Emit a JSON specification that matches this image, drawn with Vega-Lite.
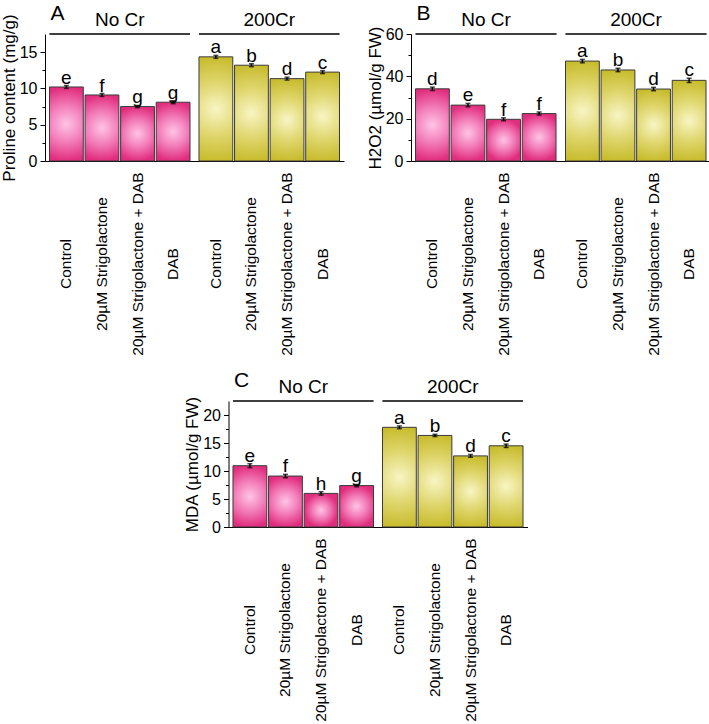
{
  "$schema": "https://vega.github.io/schema/vega-lite/v6.json",
  "padding": {"left": 0, "top": 3, "right": 0, "bottom": 0},
  "background": "white",
  "config": {
    "font": "Liberation Sans",
    "view": {"stroke": null},
    "axisY": {"titleFontSize": 17, "titleFontWeight": "normal", "titleColor": "black", "labelFontSize": 16, "labelColor": "black", "domainColor": "black", "tickColor": "black", "tickSize": 5, "titlePadding": 1, "labelPadding": 3, "grid": false},
    "axisX": {"labels": false, "ticks": false, "title": null, "domainColor": "black", "grid": false}
  },
  "datasets": {
    "rows": [
      {"panel": "A", "group": "No Cr", "treatment": "Control", "value": 10.2, "lo": 10.0, "hi": 10.4, "letter": "e"},
      {"panel": "A", "group": "No Cr", "treatment": "20µM Strigolactone", "value": 9.1, "lo": 8.9, "hi": 9.3, "letter": "f"},
      {"panel": "A", "group": "No Cr", "treatment": "20µM Strigolactone + DAB", "value": 7.5, "lo": 7.35, "hi": 7.65, "letter": "g"},
      {"panel": "A", "group": "No Cr", "treatment": "DAB", "value": 8.1, "lo": 7.9, "hi": 8.3, "letter": "g"},
      {"panel": "A", "group": "200Cr", "treatment": "Control", "value": 14.35, "lo": 14.15, "hi": 14.55, "letter": "a"},
      {"panel": "A", "group": "200Cr", "treatment": "20µM Strigolactone", "value": 13.2, "lo": 13.0, "hi": 13.4, "letter": "b"},
      {"panel": "A", "group": "200Cr", "treatment": "20µM Strigolactone + DAB", "value": 11.35, "lo": 11.15, "hi": 11.55, "letter": "d"},
      {"panel": "A", "group": "200Cr", "treatment": "DAB", "value": 12.25, "lo": 12.05, "hi": 12.45, "letter": "c"},
      {"panel": "B", "group": "No Cr", "treatment": "Control", "value": 34.1, "lo": 33.3, "hi": 34.9, "letter": "d"},
      {"panel": "B", "group": "No Cr", "treatment": "20µM Strigolactone", "value": 26.4, "lo": 25.6, "hi": 27.2, "letter": "e"},
      {"panel": "B", "group": "No Cr", "treatment": "20µM Strigolactone + DAB", "value": 19.7, "lo": 19.0, "hi": 20.4, "letter": "f"},
      {"panel": "B", "group": "No Cr", "treatment": "DAB", "value": 22.4, "lo": 21.7, "hi": 23.1, "letter": "f"},
      {"panel": "B", "group": "200Cr", "treatment": "Control", "value": 47.2, "lo": 46.4, "hi": 48.0, "letter": "a"},
      {"panel": "B", "group": "200Cr", "treatment": "20µM Strigolactone", "value": 43.0, "lo": 42.2, "hi": 43.8, "letter": "b"},
      {"panel": "B", "group": "200Cr", "treatment": "20µM Strigolactone + DAB", "value": 34.0, "lo": 33.2, "hi": 34.8, "letter": "d"},
      {"panel": "B", "group": "200Cr", "treatment": "DAB", "value": 38.1, "lo": 37.1, "hi": 39.1, "letter": "c"},
      {"panel": "C", "group": "No Cr", "treatment": "Control", "value": 10.95, "lo": 10.6, "hi": 11.3, "letter": "e"},
      {"panel": "C", "group": "No Cr", "treatment": "20µM Strigolactone", "value": 9.1, "lo": 8.8, "hi": 9.4, "letter": "f"},
      {"panel": "C", "group": "No Cr", "treatment": "20µM Strigolactone + DAB", "value": 6.0, "lo": 5.7, "hi": 6.3, "letter": "h"},
      {"panel": "C", "group": "No Cr", "treatment": "DAB", "value": 7.4, "lo": 7.2, "hi": 7.6, "letter": "g"},
      {"panel": "C", "group": "200Cr", "treatment": "Control", "value": 17.8, "lo": 17.55, "hi": 18.05, "letter": "a"},
      {"panel": "C", "group": "200Cr", "treatment": "20µM Strigolactone", "value": 16.35, "lo": 16.15, "hi": 16.55, "letter": "b"},
      {"panel": "C", "group": "200Cr", "treatment": "20µM Strigolactone + DAB", "value": 12.7, "lo": 12.45, "hi": 12.95, "letter": "d"},
      {"panel": "C", "group": "200Cr", "treatment": "DAB", "value": 14.5, "lo": 14.2, "hi": 14.8, "letter": "c"}
    ]
  },
  "vconcat": [
    {
      "hconcat": [
        {
          "width": 299, "height": 127,
          "data": {"name": "rows"},
          "transform": [{"filter": "datum.panel == 'A'"}],
          "encoding": {
            "x": {"field": "group", "type": "nominal", "sort": ["No Cr", "200Cr"], "scale": {"paddingInner": 0.06, "paddingOuter": 0.03}, "axis": {}},
            "y": {"type": "quantitative", "scale": {"domain": [0, 17.5], "nice": false}, "axis": {"title": "Proline content (mg/g)", "values": [0, 5, 10, 15]}}
          },
          "resolve": {"axis": {"y": "independent"}},
          "layer": [
            {"layer": [
              {"transform": [{"filter": "datum.group == 'No Cr'"}], "mark": {"type": "bar", "stroke": "#3a3a3a", "strokeWidth": 1, "fill": {"gradient": "radial", "x1": 0.5, "y1": 0.5, "r1": 0, "x2": 0.5, "y2": 0.5, "r2": 0.5, "stops": [{"offset": 0, "color": "#FFC4E6"}, {"offset": 0.5, "color": "#F27CB8"}, {"offset": 1, "color": "#E12D7D"}]}},
               "encoding": {"xOffset": {"field": "treatment", "type": "nominal", "sort": ["Control", "20µM Strigolactone", "20µM Strigolactone + DAB", "DAB"], "scale": {"paddingInner": 0.05, "paddingOuter": 0}}, "y": {"field": "value", "type": "quantitative"}}},
              {"transform": [{"filter": "datum.group == '200Cr'"}], "mark": {"type": "bar", "stroke": "#3a3a3a", "strokeWidth": 1, "fill": {"gradient": "radial", "x1": 0.5, "y1": 0.5, "r1": 0, "x2": 0.5, "y2": 0.5, "r2": 0.5, "stops": [{"offset": 0, "color": "#F8F5C4"}, {"offset": 0.5, "color": "#E0D770"}, {"offset": 1, "color": "#C8BC2D"}]}},
               "encoding": {"xOffset": {"field": "treatment", "type": "nominal", "sort": ["Control", "20µM Strigolactone", "20µM Strigolactone + DAB", "DAB"]}, "y": {"field": "value", "type": "quantitative"}}},
              {"mark": {"type": "rule", "color": "black", "strokeWidth": 1.5},
               "encoding": {"xOffset": {"field": "treatment", "type": "nominal", "sort": ["Control", "20µM Strigolactone", "20µM Strigolactone + DAB", "DAB"]}, "y": {"field": "lo", "type": "quantitative"}, "y2": {"field": "hi"}}},
              {"mark": {"type": "tick", "color": "black", "size": 5, "thickness": 1.5, "orient": "horizontal"},
               "encoding": {"xOffset": {"field": "treatment", "type": "nominal", "sort": ["Control", "20µM Strigolactone", "20µM Strigolactone + DAB", "DAB"]}, "y": {"field": "hi", "type": "quantitative"}}},
              {"mark": {"type": "tick", "color": "black", "size": 5, "thickness": 1.5, "orient": "horizontal"},
               "encoding": {"xOffset": {"field": "treatment", "type": "nominal", "sort": ["Control", "20µM Strigolactone", "20µM Strigolactone + DAB", "DAB"]}, "y": {"field": "lo", "type": "quantitative"}}},
              {"mark": {"type": "text", "fontSize": 19, "baseline": "alphabetic", "dy": -2, "color": "black"},
               "encoding": {"xOffset": {"field": "treatment", "type": "nominal", "sort": ["Control", "20µM Strigolactone", "20µM Strigolactone + DAB", "DAB"]}, "y": {"field": "hi", "type": "quantitative"}, "text": {"field": "letter"}}},
              {"mark": {"type": "text", "fontSize": 15.5, "angle": 270, "align": "center", "baseline": "middle", "dx": -103, "color": "black"},
               "encoding": {"xOffset": {"field": "treatment", "type": "nominal", "sort": ["Control", "20µM Strigolactone", "20µM Strigolactone + DAB", "DAB"]}, "y": {"datum": 0}, "text": {"field": "treatment"}}},
              {"transform": [{"aggregate": [{"op": "count", "as": "n"}], "groupby": ["group"]}],
               "mark": {"type": "text", "fontSize": 19, "baseline": "alphabetic", "dy": -8, "color": "black"},
               "encoding": {"y": {"datum": 17.5}, "text": {"field": "group"}}},
              {"transform": [{"filter": "datum.group == 'No Cr'"}, {"aggregate": [{"op": "count", "as": "n"}], "groupby": ["group"]}],
               "mark": {"type": "text", "fontSize": 21, "baseline": "alphabetic", "align": "left", "dx": 1, "dy": -14, "color": "black"},
               "encoding": {"x": {"field": "group", "type": "nominal", "bandPosition": 0}, "y": {"datum": 17.5}, "text": {"value": "A"}}}
            ]},
            {"transform": [{"aggregate": [{"op": "count", "as": "n"}], "groupby": ["group"]}],
             "mark": {"type": "bar", "fill": null, "stroke": "black", "strokeWidth": 1},
             "encoding": {"y": {"datum": 17.5, "axis": {"orient": "left", "values": [2.5, 7.5, 12.5], "labels": false, "domain": false, "tickSize": 3, "title": null}}, "y2": {"datum": 17.5}}}
          ]
        },
        {
          "width": 300, "height": 127,
          "data": {"name": "rows"},
          "transform": [{"filter": "datum.panel == 'B'"}],
          "encoding": {
            "x": {"field": "group", "type": "nominal", "sort": ["No Cr", "200Cr"], "scale": {"paddingInner": 0.06, "paddingOuter": 0.03}, "axis": {}},
            "y": {"type": "quantitative", "scale": {"domain": [0, 60], "nice": false}, "axis": {"title": "H2O2 (µmol/g FW)", "values": [0, 20, 40, 60]}}
          },
          "resolve": {"axis": {"y": "independent"}},
          "layer": [
            {"layer": [
              {"transform": [{"filter": "datum.group == 'No Cr'"}], "mark": {"type": "bar", "stroke": "#3a3a3a", "strokeWidth": 1, "fill": {"gradient": "radial", "x1": 0.5, "y1": 0.5, "r1": 0, "x2": 0.5, "y2": 0.5, "r2": 0.5, "stops": [{"offset": 0, "color": "#FFC4E6"}, {"offset": 0.5, "color": "#F27CB8"}, {"offset": 1, "color": "#E12D7D"}]}},
               "encoding": {"xOffset": {"field": "treatment", "type": "nominal", "sort": ["Control", "20µM Strigolactone", "20µM Strigolactone + DAB", "DAB"], "scale": {"paddingInner": 0.05, "paddingOuter": 0}}, "y": {"field": "value", "type": "quantitative"}}},
              {"transform": [{"filter": "datum.group == '200Cr'"}], "mark": {"type": "bar", "stroke": "#3a3a3a", "strokeWidth": 1, "fill": {"gradient": "radial", "x1": 0.5, "y1": 0.5, "r1": 0, "x2": 0.5, "y2": 0.5, "r2": 0.5, "stops": [{"offset": 0, "color": "#F8F5C4"}, {"offset": 0.5, "color": "#E0D770"}, {"offset": 1, "color": "#C8BC2D"}]}},
               "encoding": {"xOffset": {"field": "treatment", "type": "nominal", "sort": ["Control", "20µM Strigolactone", "20µM Strigolactone + DAB", "DAB"]}, "y": {"field": "value", "type": "quantitative"}}},
              {"mark": {"type": "rule", "color": "black", "strokeWidth": 1.5},
               "encoding": {"xOffset": {"field": "treatment", "type": "nominal", "sort": ["Control", "20µM Strigolactone", "20µM Strigolactone + DAB", "DAB"]}, "y": {"field": "lo", "type": "quantitative"}, "y2": {"field": "hi"}}},
              {"mark": {"type": "tick", "color": "black", "size": 5, "thickness": 1.5, "orient": "horizontal"},
               "encoding": {"xOffset": {"field": "treatment", "type": "nominal", "sort": ["Control", "20µM Strigolactone", "20µM Strigolactone + DAB", "DAB"]}, "y": {"field": "hi", "type": "quantitative"}}},
              {"mark": {"type": "tick", "color": "black", "size": 5, "thickness": 1.5, "orient": "horizontal"},
               "encoding": {"xOffset": {"field": "treatment", "type": "nominal", "sort": ["Control", "20µM Strigolactone", "20µM Strigolactone + DAB", "DAB"]}, "y": {"field": "lo", "type": "quantitative"}}},
              {"mark": {"type": "text", "fontSize": 19, "baseline": "alphabetic", "dy": -2, "color": "black"},
               "encoding": {"xOffset": {"field": "treatment", "type": "nominal", "sort": ["Control", "20µM Strigolactone", "20µM Strigolactone + DAB", "DAB"]}, "y": {"field": "hi", "type": "quantitative"}, "text": {"field": "letter"}}},
              {"mark": {"type": "text", "fontSize": 15.5, "angle": 270, "align": "center", "baseline": "middle", "dx": -103, "color": "black"},
               "encoding": {"xOffset": {"field": "treatment", "type": "nominal", "sort": ["Control", "20µM Strigolactone", "20µM Strigolactone + DAB", "DAB"]}, "y": {"datum": 0}, "text": {"field": "treatment"}}},
              {"transform": [{"aggregate": [{"op": "count", "as": "n"}], "groupby": ["group"]}],
               "mark": {"type": "text", "fontSize": 19, "baseline": "alphabetic", "dy": -8, "color": "black"},
               "encoding": {"y": {"datum": 60}, "text": {"field": "group"}}},
              {"transform": [{"filter": "datum.group == 'No Cr'"}, {"aggregate": [{"op": "count", "as": "n"}], "groupby": ["group"]}],
               "mark": {"type": "text", "fontSize": 21, "baseline": "alphabetic", "align": "left", "dx": 1, "dy": -14, "color": "black"},
               "encoding": {"x": {"field": "group", "type": "nominal", "bandPosition": 0}, "y": {"datum": 60}, "text": {"value": "B"}}}
            ]},
            {"transform": [{"aggregate": [{"op": "count", "as": "n"}], "groupby": ["group"]}],
             "mark": {"type": "bar", "fill": null, "stroke": "black", "strokeWidth": 1},
             "encoding": {"y": {"datum": 60, "axis": {"orient": "left", "values": [10, 30, 50], "labels": false, "domain": false, "tickSize": 3, "title": null}}, "y2": {"datum": 60}}}
          ]
        }
      ],
      "spacing": 22
    },
    {
      "width": 299, "height": 126,
      "data": {"name": "rows"},
      "transform": [{"filter": "datum.panel == 'C'"}],
      "encoding": {
        "x": {"field": "group", "type": "nominal", "sort": ["No Cr", "200Cr"], "scale": {"paddingInner": 0.06, "paddingOuter": 0.03}, "axis": {}},
        "y": {"type": "quantitative", "scale": {"domain": [0, 22.5], "nice": false}, "axis": {"title": "MDA (µmol/g FW)", "values": [0, 5, 10, 15, 20]}}
      },
      "resolve": {"axis": {"y": "independent"}},
      "layer": [
        {"layer": [
          {"transform": [{"filter": "datum.group == 'No Cr'"}], "mark": {"type": "bar", "stroke": "#3a3a3a", "strokeWidth": 1, "fill": {"gradient": "radial", "x1": 0.5, "y1": 0.5, "r1": 0, "x2": 0.5, "y2": 0.5, "r2": 0.5, "stops": [{"offset": 0, "color": "#FFC4E6"}, {"offset": 0.5, "color": "#F27CB8"}, {"offset": 1, "color": "#E12D7D"}]}},
           "encoding": {"xOffset": {"field": "treatment", "type": "nominal", "sort": ["Control", "20µM Strigolactone", "20µM Strigolactone + DAB", "DAB"], "scale": {"paddingInner": 0.05, "paddingOuter": 0}}, "y": {"field": "value", "type": "quantitative"}}},
          {"transform": [{"filter": "datum.group == '200Cr'"}], "mark": {"type": "bar", "stroke": "#3a3a3a", "strokeWidth": 1, "fill": {"gradient": "radial", "x1": 0.5, "y1": 0.5, "r1": 0, "x2": 0.5, "y2": 0.5, "r2": 0.5, "stops": [{"offset": 0, "color": "#F8F5C4"}, {"offset": 0.5, "color": "#E0D770"}, {"offset": 1, "color": "#C8BC2D"}]}},
           "encoding": {"xOffset": {"field": "treatment", "type": "nominal", "sort": ["Control", "20µM Strigolactone", "20µM Strigolactone + DAB", "DAB"]}, "y": {"field": "value", "type": "quantitative"}}},
          {"mark": {"type": "rule", "color": "black", "strokeWidth": 1.5},
           "encoding": {"xOffset": {"field": "treatment", "type": "nominal", "sort": ["Control", "20µM Strigolactone", "20µM Strigolactone + DAB", "DAB"]}, "y": {"field": "lo", "type": "quantitative"}, "y2": {"field": "hi"}}},
          {"mark": {"type": "tick", "color": "black", "size": 5, "thickness": 1.5, "orient": "horizontal"},
           "encoding": {"xOffset": {"field": "treatment", "type": "nominal", "sort": ["Control", "20µM Strigolactone", "20µM Strigolactone + DAB", "DAB"]}, "y": {"field": "hi", "type": "quantitative"}}},
          {"mark": {"type": "tick", "color": "black", "size": 5, "thickness": 1.5, "orient": "horizontal"},
           "encoding": {"xOffset": {"field": "treatment", "type": "nominal", "sort": ["Control", "20µM Strigolactone", "20µM Strigolactone + DAB", "DAB"]}, "y": {"field": "lo", "type": "quantitative"}}},
          {"mark": {"type": "text", "fontSize": 19, "baseline": "alphabetic", "dy": -2, "color": "black"},
           "encoding": {"xOffset": {"field": "treatment", "type": "nominal", "sort": ["Control", "20µM Strigolactone", "20µM Strigolactone + DAB", "DAB"]}, "y": {"field": "hi", "type": "quantitative"}, "text": {"field": "letter"}}},
          {"mark": {"type": "text", "fontSize": 15.5, "angle": 270, "align": "center", "baseline": "middle", "dx": -103, "color": "black"},
           "encoding": {"xOffset": {"field": "treatment", "type": "nominal", "sort": ["Control", "20µM Strigolactone", "20µM Strigolactone + DAB", "DAB"]}, "y": {"datum": 0}, "text": {"field": "treatment"}}},
          {"transform": [{"aggregate": [{"op": "count", "as": "n"}], "groupby": ["group"]}],
           "mark": {"type": "text", "fontSize": 19, "baseline": "alphabetic", "dy": -8, "color": "black"},
           "encoding": {"y": {"datum": 22.5}, "text": {"field": "group"}}},
          {"transform": [{"filter": "datum.group == 'No Cr'"}, {"aggregate": [{"op": "count", "as": "n"}], "groupby": ["group"]}],
           "mark": {"type": "text", "fontSize": 21, "baseline": "alphabetic", "align": "left", "dx": 1, "dy": -14, "color": "black"},
           "encoding": {"x": {"field": "group", "type": "nominal", "bandPosition": 0}, "y": {"datum": 22.5}, "text": {"value": "C"}}}
        ]},
        {"transform": [{"aggregate": [{"op": "count", "as": "n"}], "groupby": ["group"]}],
         "mark": {"type": "bar", "fill": null, "stroke": "black", "strokeWidth": 1},
         "encoding": {"y": {"datum": 22.5, "axis": {"orient": "left", "values": [2.5, 7.5, 12.5, 17.5], "labels": false, "domain": false, "tickSize": 3, "title": null}}, "y2": {"datum": 22.5}}}
      ]
    }
  ],
  "spacing": 14,
  "center": true
}
